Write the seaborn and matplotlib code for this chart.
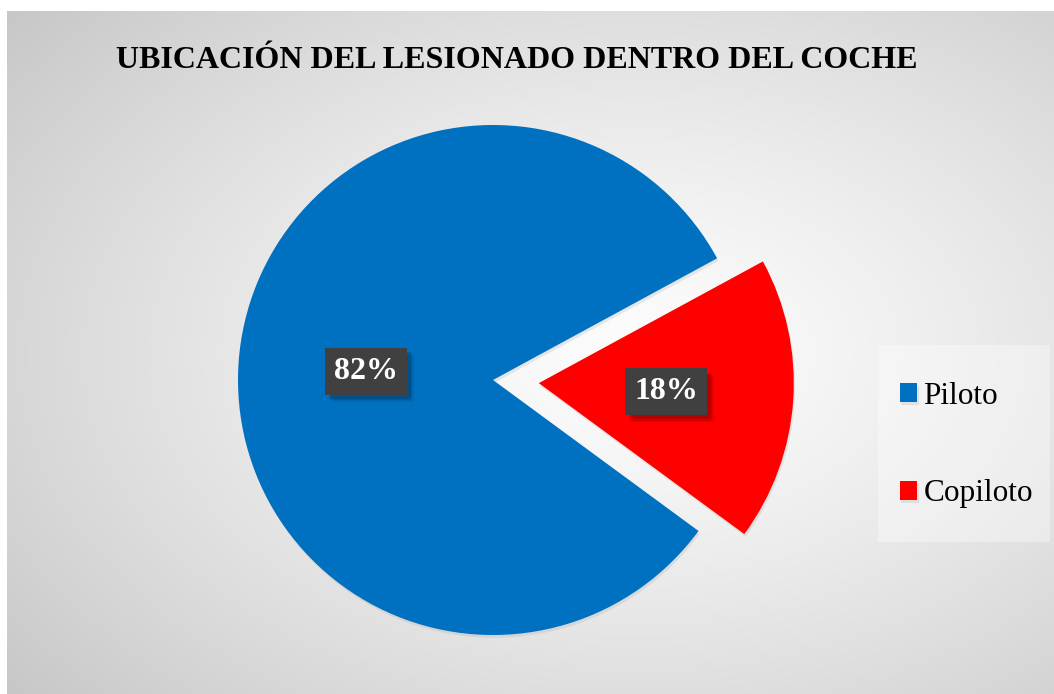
import numpy as np
import matplotlib
matplotlib.use("Agg")
import matplotlib.pyplot as plt
import matplotlib.patheffects as pe
from matplotlib.patches import Rectangle
import seaborn as sns

categories = ["Piloto", "Copiloto"]
values = [82, 18]
colors = ["#0070C0", "#FF0000"]
title = "UBICACIÓN DEL LESIONADO DENTRO DEL COCHE"

sns.set_theme(style="white")
plt.rcParams["font.family"] = ["Liberation Serif", "DejaVu Serif"]
plt.rcParams["text.color"] = "black"

W, H = 1054, 694
fig = plt.figure(figsize=(W / 100, H / 100), dpi=100)
fig.patch.set_facecolor("white")

# background panel with radial gradient
bg = fig.add_axes([7 / W, 0, 1 - 7 / W, (H - 11) / H])
bg.set_axis_off()
yy, xx = np.mgrid[0:300, 0:450]
cx, cy = 270, 150
d = np.sqrt(((xx - cx) / 450) ** 2 + ((yy - cy) / 300) ** 2)
d = d / d.max()
shade = 0.99 - 0.21 * d ** 1.3
img = np.dstack([shade, shade, shade])
bg.imshow(img, aspect="auto", extent=[0, 1, 0, 1], interpolation="bicubic")
bg.set_xlim(0, 1)
bg.set_ylim(0, 1)

# legend panel
fig.add_artist(Rectangle((878 / W, 1 - 542 / H), (1050 - 878) / W, (542 - 345) / H,
                         transform=fig.transFigure, facecolor="white", alpha=0.35,
                         edgecolor="none", zorder=0.5))

# pie axes: 1 data unit = radius in pixels
R = 255.0
pcx, pcy = 493.0, H - 380.0
ax = fig.add_axes([0, 0, 1, 1])
ax.patch.set_alpha(0)
wedges, texts, autotexts = ax.pie(
    values, colors=colors, startangle=28.5, explode=[0, 0.18],
    autopct="%1.0f%%", pctdistance=0.5,
    wedgeprops=dict(linewidth=0),
    textprops=dict(color="white", fontsize=23, fontweight="bold"),
)
for w in wedges:
    w.set_path_effects([pe.SimplePatchShadow(offset=(1, -2), shadow_rgbFace="#999999", alpha=0.2), pe.Normal()])
for t in autotexts:
    t.set_bbox(dict(boxstyle="square,pad=0.28", facecolor="#404040", edgecolor="none"))
    t.get_bbox_patch().set_path_effects([
        pe.SimplePatchShadow(offset=(5, -5), shadow_rgbFace="black", alpha=0.08),
        pe.SimplePatchShadow(offset=(4, -4), shadow_rgbFace="black", alpha=0.1),
        pe.SimplePatchShadow(offset=(3, -3), shadow_rgbFace="black", alpha=0.12),
        pe.Normal()])
ax.set_aspect("auto")
ax.set_xlim(-pcx / R, (W - pcx) / R)
ax.set_ylim(-pcy / R, (H - pcy) / R)
ax.set_axis_off()

fig.text(517 / W, 1 - 60 / H, title, ha="center", va="center",
         fontsize=23, fontweight="bold", color="black")

leg = fig.legend(wedges, categories, loc="center left",
                 bbox_to_anchor=(900 / W, 1 - 445 / H),
                 fontsize=22.5, frameon=False, handlelength=0.55, handleheight=0.55,
                 handletextpad=0.2, labelspacing=2.2, borderpad=0,
                 borderaxespad=0, labelcolor="black")

fig.savefig("out.png", dpi=100, facecolor="white")
